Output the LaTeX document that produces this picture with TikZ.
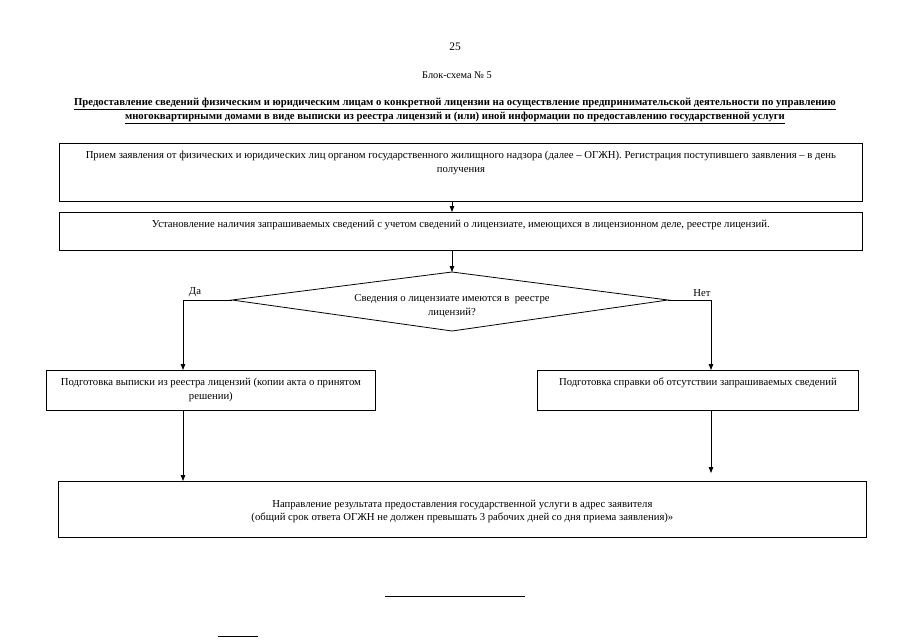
\documentclass[tikz,border=0pt]{standalone}
\usepackage{fontspec}
\setmainfont{Liberation Serif}
\usetikzlibrary{arrows.meta}
\begin{document}
\begin{tikzpicture}[x=1pt,y=-1pt,
  box/.style={draw, line width=0.8pt, inner sep=0pt, anchor=north west},
  txt/.style={font=\fontsize{10.7}{13.5}\selectfont, align=center, inner sep=0pt},
  ttl/.style={font=\fontsize{10.7}{14}\selectfont\bfseries, align=center, inner sep=0pt},
  arr/.style={line width=0.8pt, -{Triangle[length=6pt,width=4.5pt]}},
  ln/.style={line width=0.8pt}]
\useasboundingbox (0,0) rectangle (905,640);
% header
\node[font=\fontsize{11.5}{13}\selectfont, inner sep=0pt] (page) at (455,47) {25};
\node[font=\fontsize{10.3}{12}\selectfont, inner sep=0pt] (bs) at (457,75) {Блок-схема № 5};
\node[ttl] (title) at (455,111) {\underline{Предоставление сведений физическим и юридическим лицам о конкретной лицензии на осуществление предпринимательской деятельности по управлению}\\
\underline{многоквартирными домами в виде выписки из реестра лицензий и (или) иной информации по предоставлению государственной услуги}};
% box 1
\node[box, minimum width=803pt, minimum height=58pt] (b1) at (59,143) {};
\node[txt, anchor=north] (t1) at ([yshift=-8pt]b1.north) {Прием заявления от физических и юридических лиц органом государственного жилищного надзора (далее – ОГЖН). Регистрация поступившего заявления – в день\\ получения};
% box 2
\node[box, minimum width=803pt, minimum height=38pt] (b2) at (59,212) {};
\node[txt, anchor=north] (t2) at ([yshift=-8pt]b2.north) {Установление наличия запрашиваемых сведений с учетом сведений о лицензиате, имеющихся в лицензионном деле, реестре лицензий.};
% diamond
\coordinate (dT) at (452,272);
\coordinate (dL) at (232,300);
\coordinate (dR) at (668,300);
\coordinate (dB) at (452,331);
\draw[ln] (dT) -- (dR) -- (dB) -- (dL) -- cycle;
\node[txt] (dt) at (452,306) {Сведения о лицензиате имеются в~ реестре\\ лицензий?};
\node[txt, anchor=south] (da) at (195,297) {Да};
\node[txt, anchor=south] (net) at (702,297) {Нет};
% branch boxes
\node[box, minimum width=329pt, minimum height=40pt] (bl) at (46,370) {};
\node[txt, anchor=north] (tl) at ([yshift=-8pt]bl.north) {Подготовка выписки из реестра лицензий (копии акта о принятом\\ решении)};
\node[box, minimum width=321pt, minimum height=40pt] (br) at (537,370) {};
\node[txt, anchor=north] (tr) at ([yshift=-8pt]br.north) {Подготовка справки об отсутствии запрашиваемых сведений};
% bottom box
\node[box, minimum width=808pt, minimum height=56pt] (b3) at (58,481) {};
\node[txt] (t3) at ([yshift=-2pt]b3.center) {Направление результата предоставления государственной услуги в адрес заявителя\\ (общий срок ответа ОГЖН не должен превышать 3 рабочих дней со дня приема заявления)»};
% connectors
\coordinate (ld) at (183,300);
\coordinate (rd) at (711,300);
\coordinate (rend) at (711,473);
\draw[arr] (b1.south -| dT) -- (b2.north -| dT);
\draw[arr] (b2.south -| dT) -- (dT);
\draw[arr] (dL) -- (ld) -- (ld |- bl.north);
\draw[arr] (dR) -- (rd) -- (rd |- br.north);
\draw[arr] (ld |- bl.south) -- (ld |- b3.north);
\draw[arr] (rd |- br.south) -- (rend);
% footnote rules
\coordinate (f1) at (385,596);
\coordinate (f2) at (525,596);
\draw[line width=0.6pt] (f1) -- (f2);
\coordinate (g1) at (218,636);
\coordinate (g2) at (258,636);
\draw[line width=0.6pt] (g1) -- (g2);
\end{tikzpicture}
\end{document}
